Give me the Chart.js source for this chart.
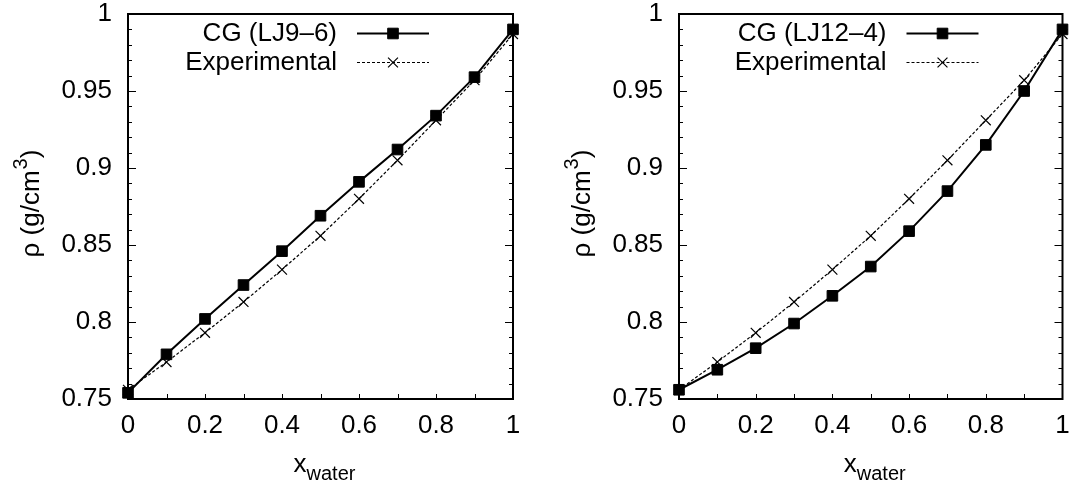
<!DOCTYPE html>
<html>
<head>
<meta charset="utf-8">
<title>Density vs water fraction</title>
<script src="https://cdn.jsdelivr.net/npm/chart.js@4/dist/chart.umd.min.js"></script>
<style>
  html, body { margin: 0; padding: 0; background: #fff; }
  #wrap { position: relative; width: 1071px; height: 488px; overflow: hidden; }
  canvas { position: absolute; top: 0; }
</style>
</head>
<body>
<div id="wrap">
  <canvas id="chart-lj96" width="540" height="488" style="left:0"></canvas>
  <canvas id="chart-lj124" width="520" height="488" style="left:551px"></canvas>
</div>
<script>
/* two gnuplot-style panels: density of water mixture, CG vs experiment */

const xWater = [0, 0.1, 0.2, 0.3, 0.4, 0.5, 0.6, 0.7, 0.8, 0.9, 1];
const cgLJ96 = [0.754, 0.779, 0.802, 0.824, 0.846, 0.869, 0.891, 0.912, 0.934, 0.959, 0.990];
const cgLJ124 = [0.756, 0.769, 0.783, 0.799, 0.817, 0.836, 0.859, 0.885, 0.915, 0.950, 0.990];
const experimental = [0.756, 0.774, 0.793, 0.813, 0.834, 0.856, 0.880, 0.905, 0.931, 0.957, 0.987];

const xTickLabels = [0, 0.2, 0.4, 0.6, 0.8, 1];
const xTickMarks = [0.1, 0.2, 0.3, 0.4, 0.5, 0.6, 0.7, 0.8, 0.9];
const yTickLabels = [0.75, 0.8, 0.85, 0.9, 0.95, 1];
const yMinorTicks = [0.76, 0.77, 0.78, 0.79, 0.81, 0.82, 0.83, 0.84, 0.86, 0.87, 0.88, 0.89,
  0.91, 0.92, 0.93, 0.94, 0.96, 0.97, 0.98, 0.99];

const FONT = '"Liberation Sans", Arial, Helvetica, sans-serif';
const TICK_FONT = { family: FONT, size: 26, lineHeight: 1 };

// frame + inward tick marks, drawn before the data so markers sit on top
const framePlugin = {
  id: "frame",
  beforeDatasetsDraw(chart) {
    const { ctx, chartArea: ca, scales } = chart;
    ctx.save();
    ctx.strokeStyle = "#000";
    ctx.lineWidth = 1;
    ctx.beginPath();
    yTickLabels.forEach(v => {
      const y = Math.round(scales.y.getPixelForValue(v)) + 0.5;
      ctx.moveTo(ca.left, y); ctx.lineTo(ca.left + 8, y);
      ctx.moveTo(ca.right, y); ctx.lineTo(ca.right - 8, y);
    });
    yMinorTicks.forEach(v => {
      const y = Math.round(scales.y.getPixelForValue(v)) + 0.5;
      ctx.moveTo(ca.left, y); ctx.lineTo(ca.left + 4, y);
      ctx.moveTo(ca.right, y); ctx.lineTo(ca.right - 4, y);
    });
    xTickMarks.forEach(v => {
      const x = Math.round(scales.x.getPixelForValue(v)) + 0.5;
      ctx.moveTo(x, ca.bottom); ctx.lineTo(x, ca.bottom - 5);
    });
    ctx.stroke();
    ctx.lineWidth = 2;
    ctx.strokeRect(ca.left, ca.top, ca.right - ca.left, ca.bottom - ca.top);
    ctx.restore();
  },
};

// key in the top right: text first, then the line sample with its marker
const keyPlugin = {
  id: "key",
  afterDraw(chart) {
    const { ctx, chartArea: ca } = chart;
    const lineEnd = ca.right - 84;
    const lineStart = lineEnd - 72;
    const textRight = lineStart - 20;
    const rows = [33, 62];
    ctx.save();
    chart.data.datasets.forEach((ds, i) => {
      const y = rows[i];
      ctx.fillStyle = "#000";
      ctx.font = "26px " + FONT;
      ctx.textAlign = "right";
      ctx.textBaseline = "middle";
      ctx.fillText(ds.label, textRight, y + 1);
      ctx.strokeStyle = ds.borderColor;
      ctx.lineWidth = ds.borderWidth;
      ctx.setLineDash(ds.borderDash || []);
      ctx.beginPath();
      ctx.moveTo(lineStart, y + 0.5);
      ctx.lineTo(lineEnd, y + 0.5);
      ctx.stroke();
      ctx.setLineDash([]);
      ctx.fillStyle = ds.backgroundColor;
      ctx.lineWidth = ds.pointBorderWidth;
      Chart.helpers.drawPoint(ctx, {
        pointStyle: ds.pointStyle, radius: ds.pointRadius,
        rotation: 0, borderWidth: ds.pointBorderWidth,
      }, (lineStart + lineEnd) / 2, y + 0.5);
    });
    ctx.restore();
  },
};

// axis titles with sub- and superscripts
const titlePlugin = {
  id: "titles",
  afterDraw(chart) {
    const { ctx, chartArea: ca } = chart;
    ctx.save();
    ctx.fillStyle = "#000";
    ctx.textBaseline = "alphabetic";
    ctx.textAlign = "left";

    // x title: x_water
    const big = "26px " + FONT, small = "20px " + FONT;
    ctx.font = big;
    const wx = ctx.measureText("x").width;
    ctx.font = small;
    const ww = ctx.measureText("water").width;
    const x0 = (ca.left + ca.right) / 2 + 4 - (wx + ww) / 2;
    ctx.font = big;
    ctx.fillText("x", x0, 472);
    ctx.font = small;
    ctx.fillText("water", x0 + wx, 480);

    // y title: rho (g/cm^3), rotated
    ctx.translate(39, (ca.top + ca.bottom) / 2 - 3);
    ctx.rotate(-Math.PI / 2);
    ctx.font = big;
    const main = "\u03c1 (g/cm";
    const mw = ctx.measureText(main).width;
    const cw = ctx.measureText(")").width;
    ctx.font = small;
    const sw = ctx.measureText("3").width;
    const start = -(mw + sw + cw + 1) / 2;
    ctx.font = big;
    ctx.fillText(main, start, 0);
    ctx.fillText(")", start + mw + sw + 1, 0);
    ctx.font = small;
    ctx.fillText("3", start + mw + 1, -12);
    ctx.restore();
  },
};

function makeChart(canvasId, cgLabel, cgValues, padRight) {
  const ctx = document.getElementById(canvasId).getContext("2d");
  return new Chart(ctx, {
    type: "line",
    data: {
      datasets: [
        {
          label: cgLabel,
          data: xWater.map((x, i) => ({ x, y: cgValues[i] })),
          borderColor: "#000",
          backgroundColor: "#000",
          borderWidth: 2,
          pointStyle: "rect",
          pointRadius: 7.5,
          pointBorderWidth: 1,
          pointBackgroundColor: "#000",
          pointBorderColor: "#000",
          tension: 0,
          clip: false,
        },
        {
          label: "Experimental",
          data: xWater.map((x, i) => ({ x, y: experimental[i] })),
          borderColor: "#000",
          backgroundColor: "#000",
          borderWidth: 1.2,
          borderDash: [3, 2],
          pointStyle: "crossRot",
          pointRadius: 7,
          pointBorderWidth: 1.2,
          pointBorderColor: "#000",
          tension: 0,
          clip: false,
        },
      ],
    },
    options: {
      responsive: false,
      animation: false,
      events: [],
      layout: { padding: { top: 14, right: padRight, left: 0, bottom: 0 } },
      plugins: {
        legend: { display: false },
        tooltip: { enabled: false },
      },
      scales: {
        x: {
          type: "linear",
          min: 0,
          max: 1,
          afterBuildTicks: s => { s.ticks = xTickLabels.map(v => ({ value: v })); },
          afterFit: s => { s.height = 89; s.paddingLeft = 0; s.paddingRight = 0; },
          grid: { display: false, drawTicks: false },
          border: { display: false },
          ticks: {
            padding: 14,
            color: "#000",
            font: TICK_FONT,
            maxRotation: 0,
            autoSkip: false,
            callback: v => String(v),
          },
        },
        y: {
          type: "linear",
          min: 0.75,
          max: 1,
          afterBuildTicks: s => { s.ticks = yTickLabels.map(v => ({ value: v })); },
          afterFit: s => { s.width = 128; s.paddingTop = 0; s.paddingBottom = 0; },
          grid: { display: false, drawTicks: false },
          border: { display: false },
          ticks: {
            padding: 16,
            color: "#000",
            font: TICK_FONT,
            autoSkip: false,
            callback: v => String(v),
          },
        },
      },
    },
    plugins: [framePlugin, keyPlugin, titlePlugin],
  });
}

makeChart("chart-lj96", "CG (LJ9\u20136)", cgLJ96, 27);
makeChart("chart-lj124", "CG (LJ12\u20134)", cgLJ124, 7);
</script>
</body>
</html>
